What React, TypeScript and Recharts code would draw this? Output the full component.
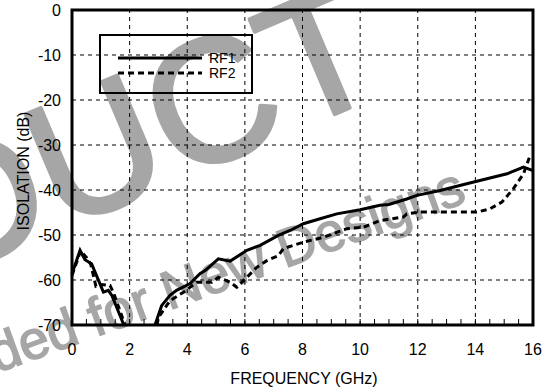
import React from "react";
import {
  LineChart,
  Line,
  XAxis,
  YAxis,
  CartesianGrid,
  ReferenceLine,
  ReferenceArea,
  Legend,
  Label,
} from "recharts";

// isolation vs frequency
const rf1Freq = [0, 0.28, 0.45, 0.68, 1.09, 1.26, 1.38, 1.8, 2.3, 2.88, 3.11, 3.4, 3.63, 4.1, 4.44, 4.62, 5.08, 5.49, 6.07, 6.53, 7.16, 7.57, 8.03, 8.61, 9.19, 10.0, 10.69, 11.0, 11.62, 11.97, 12.78, 13.7, 14.4, 15.1, 15.67, 16.0];
const rf1Iso = [-58.6, -53.4, -55.5, -56.4, -62.7, -62.3, -63.4, -70, null, -70, -65.7, -63.4, -62.3, -60.8, -58.6, -57.9, -55.3, -55.8, -53.4, -52.3, -50.1, -49, -47.5, -46.4, -45.3, -44.4, -43.4, -43.2, -42, -41.2, -40.1, -38.6, -37.5, -36.4, -34.9, -35.7];

const rf2Freq = [0, 0.3, 0.5, 0.65, 0.83, 1.0, 1.32, 1.45, 1.84, 2.4, 2.95, 3.0, 3.4, 3.87, 4.33, 4.85, 5.08, 5.49, 5.72, 6.07, 6.41, 6.76, 7.16, 7.34, 8.03, 8.73, 9.54, 10.1, 10.69, 11.5, 11.62, 12.08, 12.9, 14.05, 14.5, 14.92, 15.32, 15.67, 15.9];
const rf2Iso = [-59, -53.5, -55, -56.5, -61.4, -61, -61.2, -63, -70, null, -70, -68.3, -64.6, -62.7, -60.5, -60.5, -59.4, -60.5, -61.6, -59.4, -57.2, -55.7, -54.6, -53, -51.6, -50.5, -48.6, -48.3, -46.8, -46, -45.3, -44.9, -44.9, -44.9, -44.2, -42.7, -39.7, -36.4, -32.3];

const majorX = [0, 2, 4, 6, 8, 10, 12, 14, 16];
const minorX = [0, 0.5, 1, 1.5, 2, 2.5, 3, 3.5, 4, 4.5, 5, 5.5, 6, 6.5, 7, 7.5, 8, 8.5, 9, 9.5, 10, 10.5, 11, 11.5, 12, 12.5, 13, 13.5, 14, 14.5, 15, 15.5, 16];
const yTicks = [-70, -60, -50, -40, -30, -20, -10, 0];

const rf1 = rf1Freq.map((f, i) => ({ f, v: rf1Iso[i] }));
const rf2 = rf2Freq.map((f, i) => ({ f, v: rf2Iso[i] }));

const FONT = "'Liberation Sans', Arial, Helvetica, sans-serif";
const WM = "#a6a6a6";

function BottomTick(props: any) {
  const { x, y, payload } = props;
  const v = payload.value;
  return (
    <g>
      <line x1={x} y1={y} x2={x} y2={y - 6} stroke="#000" strokeWidth={1} />
      {v % 2 === 0 && (
        <text x={x} y={y + 24} dy="0.355em" textAnchor="middle" fontSize={16} fill="#000" fontFamily={FONT}>
          {v}
        </text>
      )}
    </g>
  );
}

function TopTick(props: any) {
  const { x, y } = props;
  return <line x1={x} y1={y} x2={x} y2={y + 6} stroke="#000" strokeWidth={1} />;
}

function LegendBox() {
  return (
    <svg width={156} height={62} style={{ display: "block" }}>
      <rect x={2} y={2} width={152} height={58} fill="none" stroke="#000" strokeWidth={2} />
      <line x1={20} y1={25} x2={104} y2={25} stroke="#000" strokeWidth={3} />
      <line x1={20} y1={40} x2={104} y2={40} stroke="#000" strokeWidth={3} strokeDasharray="6 4" />
      <text x={111} y={25} dy="0.355em" fontSize={14} fontFamily={FONT} fill="#000">RF1</text>
      <text x={111} y={40} dy="0.355em" fontSize={14} fontFamily={FONT} fill="#000">RF2</text>
    </svg>
  );
}

export default function App() {
  return (
    <div style={{ position: "absolute", left: 0, top: 0, width: 549, height: 391, background: "#fff" }}>
      <svg width={549} height={391} style={{ position: "absolute", left: 0, top: 0 }}>
        <text
          transform="translate(-56,280) rotate(-23)"
          fontSize={175}
          fill={WM}
          stroke={WM}
          strokeWidth={4}
          strokeLinejoin="round"
          fontFamily={FONT}
        >
          DUCT
        </text>
        <text
          transform="translate(-3,373) rotate(-20)"
          fontSize={54}
          fill={WM}
          stroke={WM}
          strokeWidth={1.5}
          fontFamily={FONT}
        >
          ded for New Designs
        </text>
      </svg>
      <div style={{ position: "absolute", left: 0, top: 0 }}>
        <LineChart width={549} height={391} margin={{ top: 10, right: 16, bottom: 0, left: 0 }}>
          <CartesianGrid vertical={false} stroke="#000" strokeDasharray="4 4" />
          {majorX.slice(1, -1).map((x) => (
            <ReferenceLine key={x} x={x} stroke="#000" strokeDasharray="4 4" />
          ))}
          <XAxis
            dataKey="f"
            type="number"
            domain={[0, 16]}
            ticks={minorX}
            interval={0}
            height={66}
            axisLine={false}
            tickLine={false}
            tickSize={0}
            tickMargin={0}
            tick={<BottomTick />}
          >
            <Label
              content={() => (
                <text x={304} y={378} dy="0.355em" textAnchor="middle" fontSize={16} fontFamily={FONT} fill="#000">
                  FREQUENCY (GHz)
                </text>
              )}
            />
          </XAxis>
          <XAxis
            xAxisId="top"
            orientation="top"
            type="number"
            domain={[0, 16]}
            ticks={minorX}
            interval={0}
            height={0}
            axisLine={false}
            tickLine={false}
            tickSize={0}
            tickMargin={0}
            tick={<TopTick />}
          />
          <YAxis
            type="number"
            domain={[-70, 0]}
            ticks={yTicks}
            interval={0}
            width={72}
            axisLine={false}
            tickLine={false}
            tickSize={0}
            tickMargin={11}
            tick={{ fill: "#000", fontSize: 16, fontFamily: FONT }}
          >
            <Label
              content={() => (
                <text
                  transform="translate(23,171) rotate(-90)"
                  dy="0.355em"
                  textAnchor="middle"
                  fontSize={16}
                  fontFamily={FONT}
                  fill="#000"
                >
                  ISOLATION (dB)
                </text>
              )}
            />
          </YAxis>
          <ReferenceArea x1={0} x2={16} y1={-70} y2={0} fill="none" stroke="#000" strokeWidth={3} />
          <Line
            data={rf1}
            dataKey="v"
            name="RF1"
            type="linear"
            stroke="#000"
            strokeWidth={3}
            dot={false}
            isAnimationActive={false}
          />
          <Line
            data={rf2}
            dataKey="v"
            name="RF2"
            type="linear"
            stroke="#000"
            strokeWidth={3}
            strokeDasharray="6 4"
            dot={false}
            isAnimationActive={false}
          />
          <Legend
            layout="vertical"
            align="center"
            verticalAlign="middle"
            wrapperStyle={{ left: 98, top: 33, width: 156, height: 62 }}
            content={() => <LegendBox />}
          />
        </LineChart>
      </div>
    </div>
  );
}
